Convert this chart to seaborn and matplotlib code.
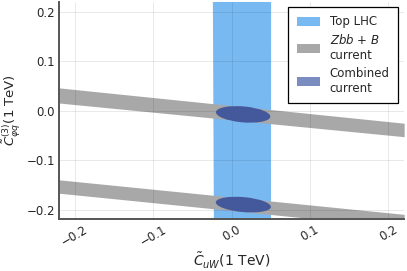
import numpy as np
import matplotlib
matplotlib.use("Agg")
import matplotlib.pyplot as plt
from matplotlib.patches import Ellipse, Patch
import seaborn as sns

# data
band_x = [-0.22, 0.22]
zbb_upper_lo = [0.016, -0.052]
zbb_upper_hi = [0.0465, -0.0248]
zbb_lower_lo = [-0.166, -0.236]
zbb_lower_hi = [-0.139, -0.2087]

top_y = [0.23, -0.23]
top_x_lo = [-0.0245, -0.0232]
top_x_hi = [0.0498, 0.0496]

comb_cx = [0.0147, 0.015]
comb_cy = [-0.007, -0.189]
comb_w = [0.070, 0.071]
comb_h = [0.032, 0.030]
comb_angle = -9.0

xticks = [-0.2, -0.1, 0.0, 0.1, 0.2]
yticks = [-0.2, -0.1, 0.0, 0.1, 0.2]

sns.set_style("white")
plt.rcParams['font.family'] = ['DejaVu Sans']
plt.rcParams['mathtext.fontset'] = 'dejavusans'

fig = plt.figure(figsize=(4.07, 2.71), dpi=100)
ax = fig.add_axes([0.145, 0.192, 0.848, 0.801])

c_top = "#78b9f2"
c_zbb = "#a8a8a8"
c_comb = "#44599b"

ax.fill_betweenx(top_y, top_x_lo, top_x_hi, color=c_top, lw=0, zorder=1)
ax.fill_between(band_x, zbb_upper_lo, zbb_upper_hi, color=c_zbb, lw=0, zorder=2)
ax.fill_between(band_x, zbb_lower_lo, zbb_lower_hi, color=c_zbb, lw=0, zorder=2)
for cx, cy, w, h in zip(comb_cx, comb_cy, comb_w, comb_h):
    ax.add_patch(Ellipse((cx, cy), w, h, angle=comb_angle, color=c_comb, lw=0, zorder=3))

ax.set_xlim(-0.22, 0.22)
ax.set_ylim(-0.218, 0.22)
ax.set_xticks(xticks)
ax.set_yticks(yticks)
ax.set_xticklabels([f"{t:.1f}".replace("-", "\u2212") for t in xticks], rotation=30)
ax.set_yticklabels([f"{t:.1f}".replace("-", "\u2212") for t in yticks])
ax.tick_params(labelsize=8.5, direction="in", length=2, width=0.6, color="#444444", pad=3)

ax.grid(True, color="#000000", alpha=0.1, lw=0.6)
ax.set_axisbelow(False)
for s in ["top", "right"]:
    ax.spines[s].set_visible(False)
for s in ["left", "bottom"]:
    ax.spines[s].set_color("#555555")
    ax.spines[s].set_linewidth(1.4)
    ax.spines[s].set_zorder(5)

ax.set_xlabel(r"$\tilde{C}_{uW}$(1 TeV)", fontsize=10, labelpad=2)
ax.set_ylabel(r"$\tilde{C}_{\varphi q}^{(3)}$(1 TeV)", fontsize=9.5, labelpad=1)
ax.yaxis.set_label_coords(-0.106, 0.5)

handles = [Patch(color=c_top, lw=0), Patch(color=c_zbb, lw=0), Patch(color="#7b8dc0", lw=0)]
labels = ["Top LHC", "$Zbb$ + $B$\ncurrent", "Combined\ncurrent"]
leg = ax.legend(handles, labels, loc="upper right", fontsize=8.5, frameon=True,
                fancybox=False, edgecolor="black", framealpha=1, borderpad=0.7,
                handlelength=2.0, handleheight=0.8, labelspacing=0.4,
                handletextpad=0.8, borderaxespad=0.0,
                bbox_to_anchor=(0.982, 0.977))
leg.get_frame().set_linewidth(0.9)
leg.set_zorder(10)

fig.savefig("out.png", dpi=100)
